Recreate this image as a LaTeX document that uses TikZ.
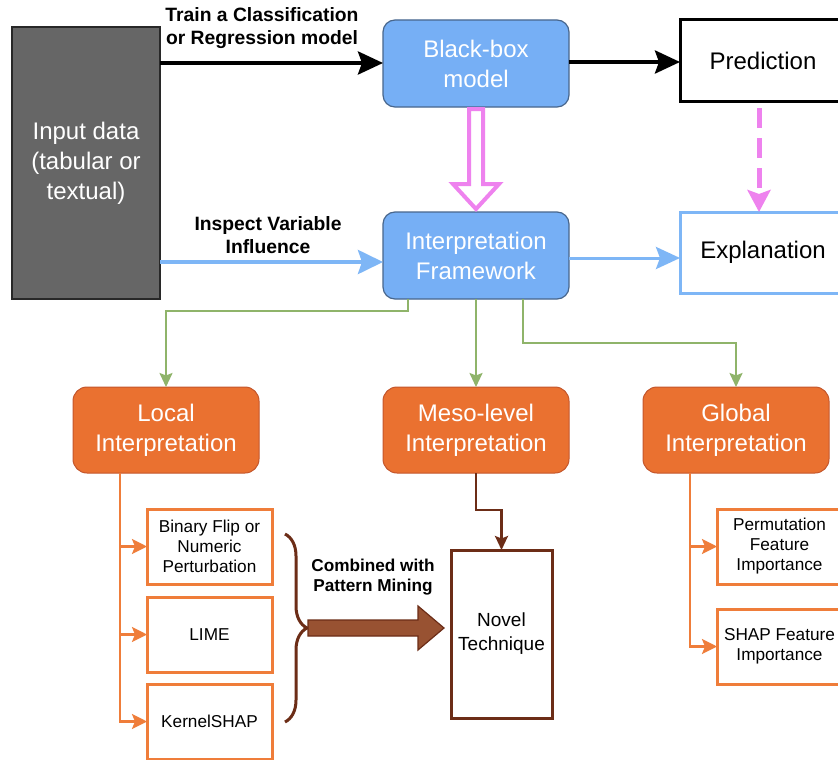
\documentclass[tikz,border=0pt]{standalone}
\usepackage{fontspec}
\setmainfont{Liberation Sans}
\usetikzlibrary{arrows.meta,decorations.pathreplacing}
\definecolor{bbfill}{RGB}{118,175,245}
\definecolor{bbdraw}{RGB}{72,102,140}
\definecolor{orfill}{RGB}{234,113,48}
\definecolor{ordraw}{RGB}{196,86,43}
\definecolor{orline}{RGB}{239,125,58}
\definecolor{grline}{RGB}{143,180,106}
\definecolor{pinkc}{RGB}{238,130,238}
\definecolor{blline}{RGB}{126,182,246}
\definecolor{brdark}{RGB}{108,45,23}
\definecolor{brfill}{RGB}{152,82,50}
\definecolor{grayfill}{RGB}{102,102,102}
\definecolor{graydraw}{RGB}{40,40,40}
\tikzset{
  box/.style={anchor=north west, inner sep=0pt, outer sep=0pt, align=center},
  bluebox/.style={box, rounded corners=12pt, fill=bbfill, draw=bbdraw, line width=1.2pt,
    text=white, minimum width=186pt, minimum height=87pt, font=\fontsize{24}{30}\selectfont},
  orbox/.style={box, rounded corners=14pt, fill=orfill, draw=ordraw, line width=1pt,
    text=white, minimum width=186pt, minimum height=86pt, font=\fontsize{24}{30}\selectfont},
  subbox/.style={box, draw=orline, line width=3pt, fill=white,
    minimum width=125pt, minimum height=75pt, font=\fontsize{17.2}{20}\selectfont},
  outbox/.style={box, line width=3pt, fill=white, minimum width=166pt, minimum height=81pt,
    font=\fontsize{24}{30}\selectfont},
  lbl/.style={align=center, font=\bfseries\fontsize{19.3}{23}\selectfont},
  blackarrow/.style={line width=4pt, -{Stealth[length=25pt,width=23pt,inset=4pt]}},
  bluearrow/.style={draw=blline, line width=4pt, -{Stealth[length=25pt,width=24pt,inset=4pt]}},
  greenarrow/.style={draw=grline, line width=2pt, -{Stealth[length=14pt,width=13pt,inset=2.5pt]}},
  orarrow/.style={draw=orline, line width=2.5pt, -{Stealth[length=15pt,width=15pt,inset=3pt]}},
  brarrow/.style={draw=brdark, line width=2.5pt, -{Stealth[length=14pt,width=13pt,inset=2.5pt]}},
}
\begin{document}
\begin{tikzpicture}[x=1pt,y=-1pt]
\clip (0,0) rectangle (838,760);
\fill[white] (0,0) rectangle (838,760);

% nodes
\node[box, fill=grayfill, draw=graydraw, line width=1.2pt, text=white,
  minimum width=148pt, minimum height=272pt, font=\fontsize{24}{30}\selectfont]
  (input) at (12,27) {Input data\\(tabular or\\textual)};
\node[bluebox] (bb) at (383,20) {Black-box\\model};
\node[bluebox] (interp) at (383,212) {Interpretation\\Framework};
\node[outbox, draw=black] (pred) at (680,20) {Prediction};
\node[outbox, draw=blline] (expl) at (680,212) {\raisebox{-2pt}{Explanation}};

\node[orbox] (local) at (73,387) {Local\\Interpretation};
\node[orbox] (meso) at (383,387) {Meso-level\\Interpretation};
\node[orbox] (global) at (643,387) {Global\\Interpretation};

\node[subbox] (bin) at (147,509) {Binary Flip or\\Numeric\\Perturbation};
\node[subbox] (lime) at (147,597) {LIME};
\node[subbox] (kshap) at (147,684) {KernelSHAP};

\node[subbox] (perm) at (717,509) {Permutation\\Feature\\Importance};
\node[subbox] (shapfi) at (717,609) {SHAP Feature\\Importance};

\node[box, draw=brdark, line width=3pt, fill=white, minimum width=101pt, minimum height=168pt,
  font=\fontsize{19}{24}\selectfont] (novel) at (451,550) {Novel\\Technique};

% labels
\node[lbl] (l1) at (262,28) {Train a Classification\\or Regression model};
\node[lbl] (l2) at (268,235) {Inspect Variable\\Influence};
\node[align=center, font=\bfseries\fontsize{17.2}{20}\selectfont] (l3) at (373,577) {Combined with\\Pattern Mining};

% top connectors
\draw[blackarrow] (input.east |- 0,63) -- (bb.west |- 0,63);
\draw[blackarrow] (bb.east |- 0,62) -- (pred.west |- 0,62);
\draw[bluearrow] (input.east |- 0,262) -- (interp.west |- 0,262);
\draw[draw=blline, line width=3pt, -{Stealth[length=24pt,width=22pt,inset=4pt]}]
  (interp.east |- 0,258) -- (expl.west |- 0,258);
\coordinate (pdstart) at (759,108);
\draw[draw=pinkc, line width=5pt, dash pattern=on 20pt off 10pt,
  -{Stealth[length=22pt,width=23pt,inset=4pt]}] (pdstart) -- (expl.north -| pdstart);

% hollow pink arrow
\draw[pinkc, line width=4pt, fill=white, line join=miter]
  (469,109) -- (483,109) -- (483,184) -- (499,184) -- (476,209) -- (453,184) -- (469,184) -- cycle;

% green connectors
\draw[greenarrow] ([xshift=25pt]interp.south west) -- ++(0,12) -| (local.north);
\draw[greenarrow] (interp.south) -- (meso.north);
\draw[greenarrow] ([xshift=140pt]interp.south west) -- ++(0,44) -| (global.north);

% orange connectors
\draw[orarrow] ([xshift=47pt]local.south west) |- (bin.west);
\draw[orarrow] ([xshift=47pt]local.south west) |- (lime.west);
\draw[orarrow] ([xshift=47pt]local.south west) |- (kshap.west);
\draw[orarrow] ([xshift=47pt]global.south west) |- (perm.west);
\draw[orarrow] ([xshift=47pt]global.south west) |- (shapfi.west);

% meso to novel
\draw[brarrow] (meso.south) -- ++(0,37) -| (novel.north);

% brace
\draw[brdark, line width=3pt, decorate, decoration={brace, amplitude=22pt}]
  (285,534) -- (285,722);

% big brown arrow
\draw[brdark, line width=1.2pt, fill=brfill]
  (308,620) -- (418,620) -- (418,606) -- (444,628) -- (418,650) -- (418,636) -- (308,636) -- cycle;
\end{tikzpicture}
\end{document}
